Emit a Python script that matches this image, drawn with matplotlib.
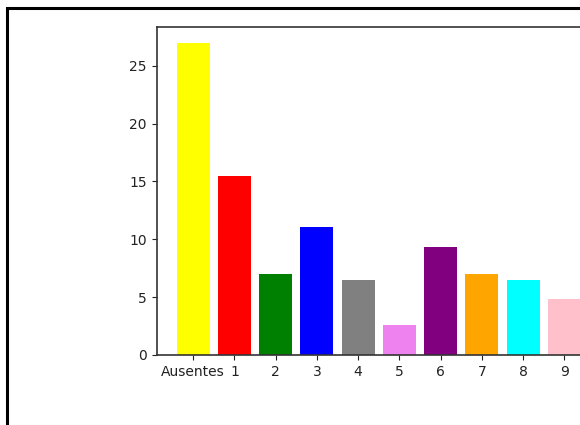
import matplotlib
matplotlib.use("Agg")
import matplotlib.pyplot as plt
from matplotlib.patches import Rectangle

categories = ["Ausentes", "1", "2", "3", "4", "5", "6", "7", "8", "9"]
values = [27, 15.5, 7.0, 11.1, 6.5, 2.6, 9.3, 7.0, 6.5, 4.8]
colors = ["yellow", "red", "green", "blue", "gray", "violet", "purple",
          "orange", "cyan", "pink"]

W, H = 580, 425
fig = plt.figure(figsize=(W / 100, H / 100), dpi=100)

left = 156.5 / W
bottom = (H - 355) / H
height = (355 - 27) / H
width = (601 - 156.5) / W
ax = fig.add_axes([left, bottom, width, height])

x = list(range(len(categories)))
ax.bar(x, values, color=colors, width=0.8)
ax.set_xticks(x)
ax.set_xticklabels(categories)
ax.set_yticks([0, 5, 10, 15, 20, 25])
ax.tick_params(labelsize=10, colors="#222222")
for s in ax.spines.values():
    s.set_color("#333333")
    s.set_linewidth(1.2)

# black frame of the screenshot (cropped on right/bottom)
fig.add_artist(Rectangle((6.5 / W, -0.5), 2.0, 1.5 - 7.5 / H,
                         transform=fig.transFigure, fill=False,
                         edgecolor="black", linewidth=2.2, clip_on=False))

fig.savefig("out.png", dpi=100)
